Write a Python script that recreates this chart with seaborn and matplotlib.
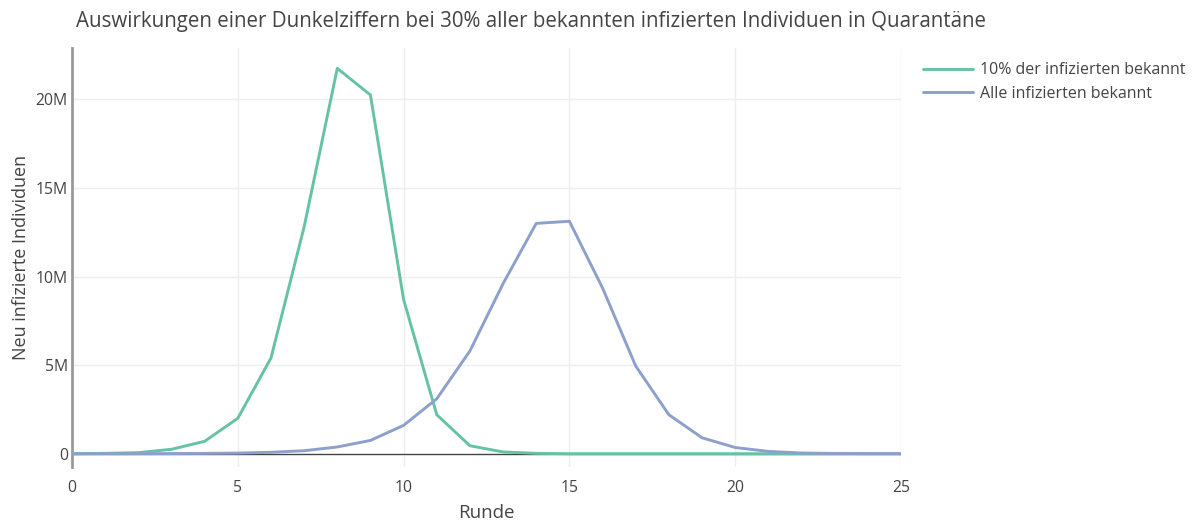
import numpy as np
import pandas as pd
import matplotlib
matplotlib.use("Agg")
import matplotlib.pyplot as plt
import seaborn as sns
from matplotlib.lines import Line2D

runde = list(range(26))
s1_name = "10% der infizierten bekannt"
s2_name = "Alle infizierten bekannt"
s1_values = [0, 0.02e6, 0.06e6, 0.25e6, 0.7e6, 2.0e6, 5.4e6, 12.8e6, 21.75e6, 20.25e6,
             8.7e6, 2.2e6, 0.45e6, 0.1e6, 0.02e6, 0, 0, 0, 0, 0, 0, 0, 0, 0, 0, 0]
s2_values = [0, 0.001e6, 0.003e6, 0.008e6, 0.018e6, 0.035e6, 0.08e6, 0.17e6, 0.38e6, 0.75e6,
             1.6e6, 3.1e6, 5.8e6, 9.6e6, 13.0e6, 13.12e6, 9.35e6, 4.95e6, 2.2e6, 0.9e6,
             0.35e6, 0.13e6, 0.04e6, 0.015e6, 0.005e6, 0.002e6]
y_ticks = [0, 5e6, 10e6, 15e6, 20e6]
y_tick_labels = ["0", "5M", "10M", "15M", "20M"]
x_ticks = [0, 5, 10, 15, 20, 25]

df = pd.DataFrame({
    "Runde": runde * 2,
    "Wert": s1_values + s2_values,
    "Serie": [s1_name] * len(runde) + [s2_name] * len(runde),
})

sns.set_style("white")
plt.rcParams['font.family'] = ['Open Sans', 'DejaVu Sans']

fig = plt.figure(figsize=(11.95, 5.25), dpi=100)
ax = fig.add_axes([72/1195, 1-467/525, (901-72)/1195, (467-48)/525])

colors = {s1_name: "#66c2a5", s2_name: "#8da0cb"}
sns.lineplot(data=df, x="Runde", y="Wert", hue="Serie", palette=colors, ax=ax,
             linewidth=2.1, legend=False, zorder=3)

ax.set_xlim(0, 25)
ax.set_ylim(-0.75e6, 22.9e6)
ax.set_xticks(x_ticks)
ax.set_xticklabels([str(t) for t in x_ticks])
ax.set_yticks(y_ticks)
ax.set_yticklabels(y_tick_labels)
ax.tick_params(axis='both', length=0, labelsize=11.3, labelcolor="#444444")
ax.tick_params(axis='x', pad=9)
ax.tick_params(axis='y', pad=3)

for t in [5, 10, 15, 20, 25]:
    ax.axvline(t, color="#eeeeee", linewidth=1, zorder=0)
for t in [5e6, 10e6, 15e6, 20e6]:
    ax.axhline(t, color="#eeeeee", linewidth=1, zorder=0)
ax.axhline(0, color="#444444", linewidth=1, zorder=2)

for side in ["top", "right", "bottom"]:
    ax.spines[side].set_visible(False)
ax.spines["left"].set_color("#999999")
ax.spines["left"].set_linewidth(2)

ax.set_xlabel("Runde", fontsize=13.5, color="#444444", labelpad=6)
ax.set_ylabel("Neu infizierte Individuen", fontsize=13, color="#444444", labelpad=4)

fig.text(531/1195, 1-22/525, "Auswirkungen einer Dunkelziffern bei 30% aller bekannten infizierten Individuen in Quarantäne",
         ha="center", va="center", fontsize=14.8, color="#444444")

handles = [Line2D([], [], color=colors[s1_name], linewidth=2.1),
           Line2D([], [], color=colors[s2_name], linewidth=2.1)]
fig.legend(handles, [s1_name, s2_name], loc="upper left", bbox_to_anchor=(917/1195, 1-56/525),
           frameon=False, fontsize=11.5, labelcolor="#444444", handlelength=3.1,
           handletextpad=0.45, labelspacing=0.45, borderaxespad=0)

fig.savefig("out.png", dpi=100)
